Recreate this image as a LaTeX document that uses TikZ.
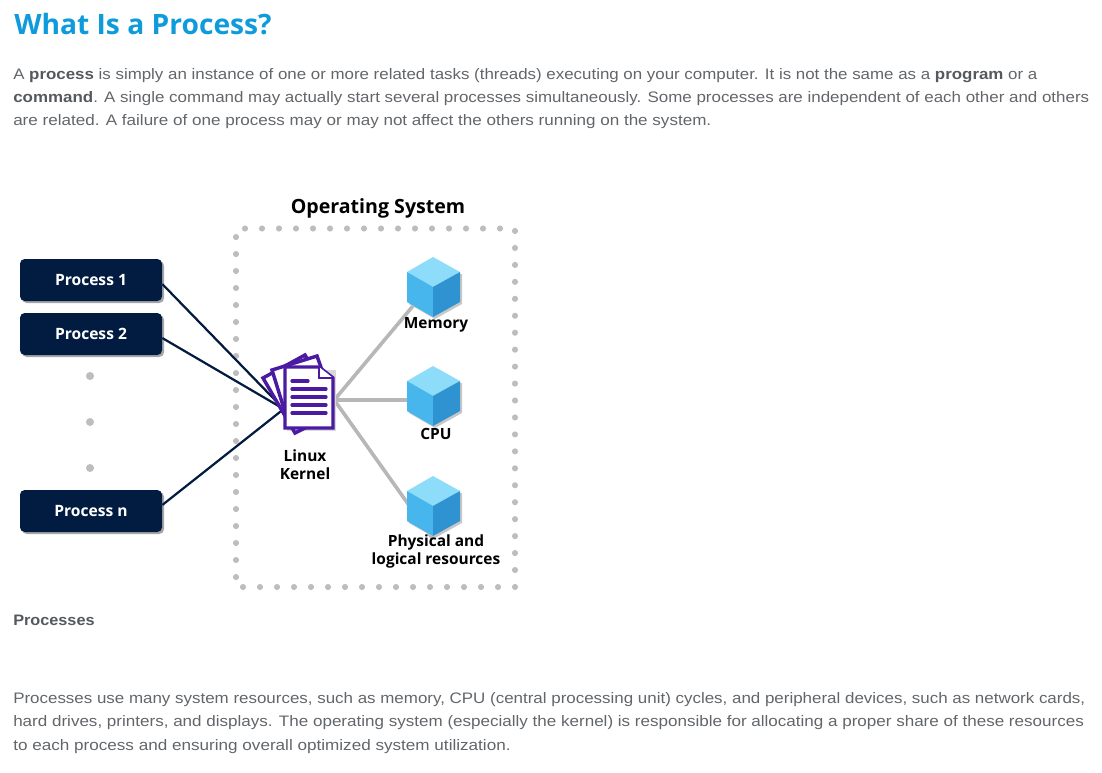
\documentclass[tikz,border=0pt]{standalone}
\usepackage{fontspec}
\usepackage{graphicx}
\usetikzlibrary{calc}
\setmainfont{Open Sans}
\newfontfamily\bodyfont{Liberation Sans}
\definecolor{bodytxt}{HTML}{62666A}
\definecolor{strongtxt}{HTML}{55595D}
\definecolor{titleblue}{HTML}{0E9BDC}
\definecolor{navybox}{HTML}{011C40}
\definecolor{dotgray}{HTML}{BDBDBD}
\definecolor{linkgray}{HTML}{B7B7B7}
\definecolor{docpurple}{HTML}{4A1AA3}
\definecolor{cubetop}{HTML}{8CDCFA}
\definecolor{cubeleft}{HTML}{47B6EC}
\definecolor{cuberight}{HTML}{2E93D0}
\newcommand{\fitw}[2]{\resizebox{#1}{\height}{#2}}
\newcommand{\B}[1]{\textbf{\textcolor{strongtxt}{#1}}}
\tikzset{
  x=0.75pt,y=-0.75pt,
  bodyline/.style={anchor=base west,inner sep=0pt,text=bodytxt,font=\bodyfont\fontsize{11.4}{13}\selectfont},
  procbox/.style={rectangle,rounded corners=3.5pt,fill=navybox,text=white,minimum width=106.5pt,minimum height=31.5pt,inner sep=0pt,font=\fontsize{11.7}{14}\selectfont\bfseries},
  procshadow/.style={black!35,rounded corners=3.5pt},
  difflabel/.style={inner sep=0pt,align=center,text=black,font=\fontsize{11.6}{13.5}\selectfont\bfseries},
  anchorbox/.style={inner sep=0pt,minimum width=37.5pt,minimum height=45pt},
  cubebox/.style={inner sep=0pt,minimum size=30pt},
  navyline/.style={navybox,line width=1.6pt},
  navyshadow/.style={black!30,line width=1.6pt,shift={(2,2)}},
  grayline/.style={linkgray,line width=2.6pt},
  grayshadow/.style={black!15,line width=2.6pt,shift={(1.5,1.5)}},
  page/.style={fill=white,draw=docpurple,line width=2.6pt,line join=miter},
  docrule/.style={docpurple,line width=2.5pt,line cap=round},
  cubeicon/.pic={
    \fill[black!22] (-24,-13)--(29,-13)--(29,17)--(2,32)--(-24,17)--cycle;
    \fill[cubetop] (0,-30)--(27,-15)--(0,0)--(-26,-15)--cycle;
    \fill[cubeleft] (-26,-15)--(0,0)--(0,30)--(-26,15)--cycle;
    \fill[cuberight] (27,-15)--(0,0)--(0,30)--(27,15)--cycle;
  }
}
\begin{document}
\begin{tikzpicture}
\useasboundingbox (0,0) rectangle (1102,772);
% page text
\node[anchor=base west,inner sep=0pt,text=titleblue] (title) at (14,34) {\fitw{193pt}{\fontsize{21}{24}\selectfont\bfseries What Is a Process?}};
\node[bodyline] (l1) at (13,79.5) {\fitw{768pt}{A \B{process} is simply an instance of one or more related tasks (threads) executing on your computer. It is not the same as a \B{program} or a}};
\node[bodyline] (l2) at (13,102.5) {\fitw{807pt}{\B{command}. A single command may actually start several processes simultaneously. Some processes are independent of each other and others}};
\node[bodyline] (l3) at (13,125.5) {\fitw{523.5pt}{are related. A failure of one process may or may not affect the others running on the system.}};
\node[bodyline] (cap) at (13,625.5) {\fitw{61pt}{\B{Processes}}};
\node[bodyline] (l4) at (13,703.5) {\fitw{804pt}{Processes use many system resources, such as memory, CPU (central processing unit) cycles, and peripheral devices, such as network cards,}};
\node[bodyline] (l5) at (13,726.5) {\fitw{803pt}{hard drives, printers, and displays. The operating system (especially the kernel) is responsible for allocating a proper share of these resources}};
\node[bodyline] (l6) at (13,750.5) {\fitw{373pt}{to each process and ensuring overall optimized system utilization.}};
% frame
\foreach \k in {0,...,15} {
  \fill[dotgray] (245+17*\k,228.5) circle (2.3pt);
  \fill[dotgray] (243+17*\k,587) circle (2.3pt);
}
\foreach \k in {0,...,20} \fill[dotgray] (236,237+17*\k) circle (2.3pt);
\foreach \k in {0,...,21} \fill[dotgray] (515,231+16.95*\k) circle (2.3pt);
\node[inner sep=0pt,text=black,font=\fontsize{14.7}{18}\selectfont\bfseries] (os) at (378,208) {Operating System};
% nodes
\fill[procshadow] (22,261) rectangle ++(142,42);
\fill[procshadow] (22,315) rectangle ++(142,42);
\fill[procshadow] (22,492) rectangle ++(142,42);
\node[procbox] (p1) at (91,280) {\raisebox{-0.7pt}{Process 1}};
\node[procbox] (p2) at (91,334) {\raisebox{-0.7pt}{Process 2}};
\node[procbox] (pn) at (91,511) {\raisebox{-0.7pt}{Process n}};
\foreach \yy in {376,422,468} \fill[dotgray] (90,\yy) circle (3pt);
\node[anchorbox] (kernel) at (309,400) {};
\node[cubebox] (mem) at (433,287) {};
\node[cubebox] (cpu) at (433,396) {};
\node[cubebox] (phys) at (433,506) {};
% connectors
\foreach \src/\dy in {p1/4,p2/4,pn/-6} {
  \draw[navyshadow] ($(\src.east)+(0,\dy)$) -- ($(kernel.west)+(0,9)$);
  \draw[navyline] ($(\src.east)+(0,\dy)$) -- ($(kernel.west)+(0,9)$);
}
\foreach \dst/\dy in {mem/-5,cpu/4,phys/33} {
  \draw[grayshadow] (kernel.east) -- ($(\dst.center)+(0,\dy)$);
  \draw[grayline] (kernel.east) -- ($(\dst.center)+(0,\dy)$);
}
% cubes
\pic at (mem.center) {cubeicon};
\pic at (cpu.center) {cubeicon};
\pic at (phys.center) {cubeicon};
% document icon
\begin{scope}[shift={(kernel.center)}]
\fill[black!15] (-22,-30) rectangle (27,31);
\draw[page] (-46,-22)--(-4,-45)--(20,-5)--(0,26)--(-14,33)--cycle;
\draw[page] (-37,-30)--(8,-44)--(20,-10)--(20,20)--(-20,25)--cycle;
\draw[page] (-24,-33)--(10,-33)--(24,-22)--(24,28)--(-24,28)--cycle;
\draw[draw=docpurple,line width=1.5pt,fill=white,line join=miter] (10,-33)--(10,-22)--(24,-22);
\draw[docrule] (-17,-19)--(-1,-19);
\foreach \yy in {-11,-3,5,13} \draw[docrule] (-17,\yy)--(17,\yy);
\end{scope}
% labels
\node[difflabel] (lmem) at (436,324.5) {Memory};
\node[difflabel] (lcpu) at (436,434) {CPU};
\node[difflabel] (lkern) at (305,465) {Linux\\Kernel};
\node[difflabel] (lphys) at (436,551) {Physical and\\logical resources};
\end{tikzpicture}
\end{document}
